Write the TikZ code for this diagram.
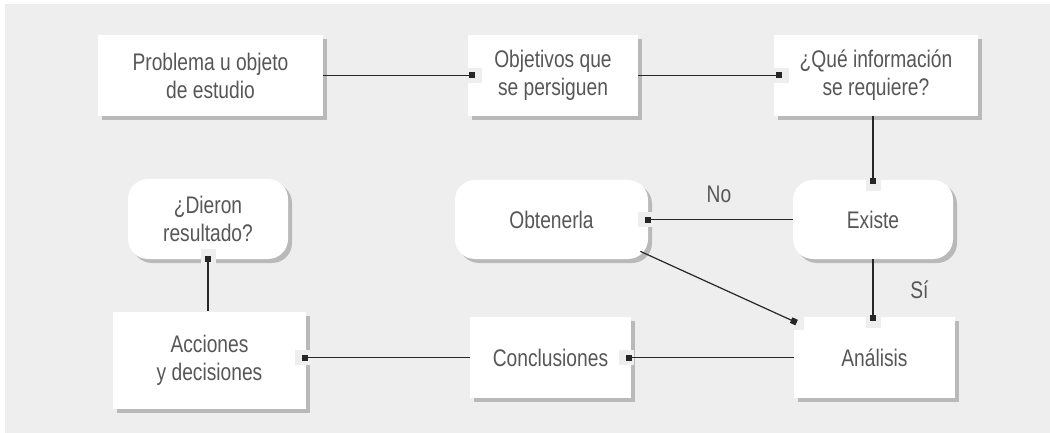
\documentclass[tikz,border=0pt]{standalone}
\usepackage{fontspec}
\setmainfont{Liberation Sans}[FakeStretch=0.8]
\usetikzlibrary{arrows.meta,shadows}
\definecolor{bggray}{HTML}{EEEEEE}
\definecolor{txtgray}{HTML}{575757}

\begin{document}
\begin{tikzpicture}
[x=0.5pt,y=-0.5pt]
\tikzset{
	box/.style = {rectangle, fill=white, inner sep=0, align=center, text=txtgray,
		font=\fontsize{12}{14}\selectfont,
		drop shadow={shadow xshift=2pt, shadow yshift=-2pt, opacity=0.22, fill=black}},
	roundbox/.style = {box, rounded corners=10pt},
	link/.style = {draw=black!85, line width=0.6pt, -{Square[length=3pt,width=3pt]}},
	pad/.style = {rectangle, fill=bggray, inner sep=0, minimum size=7.5pt, behind path},
	lbl/.style = {text=txtgray, font=\fontsize{12}{14}\selectfont}
}

\useasboundingbox (0,0) rectangle (1050,433);
\fill[bggray] (5,4) rectangle (1050,433);

\node(prob) [box, minimum width=112.5pt, minimum height=40.5pt] at (210.5,75.5) {Problema u objeto\\de estudio};
\node(obj) [box, minimum width=85pt, minimum height=40.5pt] at (553,75.5) {Objetivos que\\se persiguen};
\node(que) [box, minimum width=102pt, minimum height=40.5pt] at (876,75.5) {¿Qué información\\se requiere?};
\node(exis) [roundbox, minimum width=80pt, minimum height=39.5pt] at (873,219.5) {Existe};
\node(obt) [roundbox, minimum width=96.5pt, minimum height=39.5pt] at (551.5,219.5) {Obtenerla};
\node(dier) [roundbox, minimum width=80pt, minimum height=40pt] at (208,219) {¿Dieron\\resultado?};
\node(acc) [box, minimum width=96.5pt, minimum height=48.5pt] at (209.5,360) {Acciones\\y decisiones};
\node(conc) [box, minimum width=80.5pt, minimum height=40.5pt] at (550.5,357.5) {Conclusiones};
\node(anal) [box, minimum width=80.5pt, minimum height=40.5pt] at (874.5,357.5) {Análisis};

\draw[link] (prob.east) -- ([xshift=3.5pt]obj.west) node[pad]{};
\draw[link] (obj.east) -- ([xshift=4pt]que.west) node[pad]{};
\draw[link] (que.south -| exis.north) -- ([yshift=-2pt]exis.north) node[pad]{};
\draw[link] (exis.west) -- node[lbl, above=5pt]{No} ([xshift=-1.5pt]obt.east) node[pad]{};
\draw[link] ([xshift=-4pt,yshift=4pt]obt.south east) -- ([xshift=1.5pt,yshift=-3pt]anal.north west) node[pad]{};
\draw[link] (exis.south) -- node[lbl, right=15pt]{Sí} ([yshift=-2pt]anal.north -| exis.south) node[pad]{};
\draw[link] (anal.west) -- ([xshift=-2.5pt]conc.east) node[pad]{};
\draw[link] (conc.west) -- ([xshift=-2pt]acc.east |- conc.west) node[pad]{};
\draw[link] (acc.north -| dier.south) -- ([yshift=1.5pt]dier.south) node[pad]{};

\end{tikzpicture}
\end{document}
